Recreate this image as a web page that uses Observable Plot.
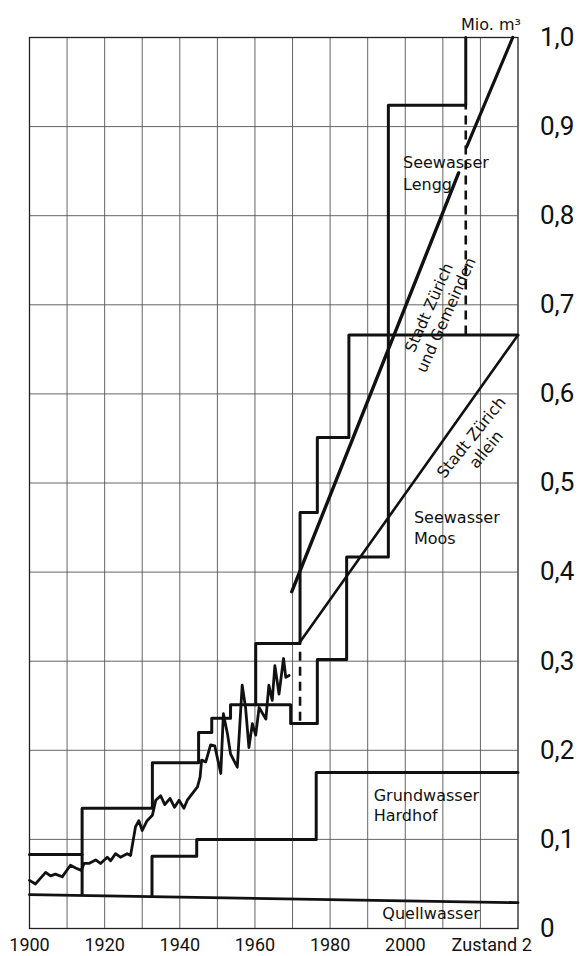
<!DOCTYPE html>
<html><head><meta charset="utf-8">
<script src="https://cdn.jsdelivr.net/npm/d3@7"></script>
<script src="https://cdn.jsdelivr.net/npm/@observablehq/plot@0.6"></script>
<style>body{margin:0;background:#fff} #chart svg{display:block}</style>
</head><body><div id="chart"></div>
<script>
// Actual water consumption (noisy line), Mio. m3
const consYears = [1900,1901.6,1904.3,1905.6,1906.9,1908.7,1910.9,1912.3,1913.8,1914.5,1915.8,1917.6,1918.9,1920.7,1921.6,1922.9,1924.2,1926,1926.9,1928.2,1929.1,1930,1931.3,1932.7,1933.6,1934.9,1936,1937.4,1938.6,1939.8,1941.1,1942,1944.7,1945.4,1945.8,1946.9,1948.2,1949.3,1950.9,1951.6,1952.7,1953.5,1955.3,1956.6,1957.5,1958.4,1959.3,1960.2,1961.1,1962.9,1963.7,1964.6,1965.3,1966.4,1967.6,1968.2,1969.1];
const consValues = [0.054,0.050,0.063,0.059,0.061,0.058,0.071,0.068,0.065,0.073,0.073,0.077,0.073,0.080,0.076,0.084,0.080,0.084,0.082,0.114,0.121,0.110,0.121,0.127,0.144,0.149,0.139,0.146,0.136,0.144,0.135,0.144,0.159,0.170,0.189,0.187,0.206,0.205,0.174,0.241,0.218,0.196,0.181,0.273,0.248,0.203,0.230,0.217,0.248,0.235,0.273,0.256,0.295,0.263,0.303,0.282,0.284];

// Capacity staircase (upper)
const capYears = [1900,1914,1932.7,1945,1948.5,1953.5,1960.2,1972,1976.6,1985,2030];
const capValues = [0.083,0.135,0.186,0.220,0.236,0.251,0.320,0.467,0.551,0.666,0.666];
// Capacity staircase (second)
const cap2Years = [1960.2,1969.5,1976.6,1984.4,1995.5,2016.1];
const cap2Values = [0.251,0.230,0.302,0.417,0.924,1.0];
// Grundwasser Hardhof
const hardhofYears = [1932.6,1932.6,1944.5,1976.3,2030];
const hardhofValues = [0.036,0.081,0.100,0.175,0.175];
// Quellwasser
const quellYears = [1900,2030];
const quellValues = [0.038,0.029];
// Forecast lines
const gemeindenYears = [1969.8,2014.2];
const gemeindenValues = [0.378,0.848];
const alleinYears = [1971.7,2030];
const alleinValues = [0.320,0.666];
const lenggYears = [2016.3,2028.6];
const lenggValues = [0.877,1.0];
// Dashed and extra risers
const dashYears = [1972,2016.1];
const dashFrom = [0.31,0.666];
const dashTo = [0.23,0.924];
const riserYears = [1914];
const riserFrom = [0.037];
const riserTo = [0.083];

// Grid and ticks
const gridYears = [1910,1920,1930,1940,1950,1960,1970,1980,1990,2000,2010,2020];
const gridValues = [0.1,0.2,0.3,0.4,0.5,0.6,0.7,0.8,0.9];
const xTickYears = [1900,1920,1940,1960,1980,2000,2023];
const xTickLabels = ["1900","1920","1940","1960","1980","2000","Zustand 2"];
const yTickValues = [0,0.1,0.2,0.3,0.4,0.5,0.6,0.7,0.8,0.9,1.0];
const yTickLabels = ["0","0,1","0,2","0,3","0,4","0,5","0,6","0,7","0,8","0,9","1,0"];

const pts = (xs, ys) => xs.map((x, i) => ({x, y: ys[i]}));
const xLab = new Map(xTickYears.map((d, i) => [d, xTickLabels[i]]));
const yLab = new Map(yTickValues.map((d, i) => [d, yTickLabels[i]]));
const vseg = (xs, a, b) => xs.map((x, i) => ({x, y1: a[i], y2: b[i]}));

const font = "DejaVu Sans";
const chart = Plot.plot({
  width: 582, height: 956,
  marginTop: 37, marginBottom: 28, marginLeft: 29, marginRight: 64.5,
  style: {fontFamily: "Roboto", background: "#fff", color: "#111", overflow: "visible"},
  x: {domain: [1900, 2030], axis: null},
  y: {domain: [0, 1], axis: null},
  marks: [
    Plot.ruleX(gridYears, {stroke: "#555", strokeWidth: 0.9}),
    Plot.ruleY(gridValues, {stroke: "#555", strokeWidth: 0.9}),
    Plot.frame({stroke: "#222", strokeWidth: 1.3}),
    Plot.axisX(xTickYears, {anchor: "bottom", label: null, tickSize: 0, tickPadding: 10, fontSize: 18, tickFormat: d => xLab.get(d)}),
    Plot.axisY(yTickValues, {anchor: "right", label: null, tickSize: 0, tickPadding: 22, fontSize: 26, tickFormat: d => yLab.get(d)}),
    Plot.text(["Mio. m³"], {frameAnchor: "top-right", dx: 3, dy: -19, textAnchor: "end", fontSize: 16, fontFamily: font}),

    Plot.line(pts(quellYears, quellValues), {x: "x", y: "y", stroke: "#111", strokeWidth: 2.8}),
    Plot.line(pts(hardhofYears, hardhofValues), {x: "x", y: "y", curve: "step-after", stroke: "#111", strokeWidth: 3}),
    Plot.ruleX(vseg(riserYears, riserFrom, riserTo), {x: "x", y1: "y1", y2: "y2", stroke: "#111", strokeWidth: 3}),
    Plot.line(pts(capYears, capValues), {x: "x", y: "y", curve: "step-after", stroke: "#111", strokeWidth: 3}),
    Plot.line(pts(cap2Years, cap2Values), {x: "x", y: "y", curve: "step-after", stroke: "#111", strokeWidth: 3}),
    Plot.ruleX(vseg(dashYears, dashFrom, dashTo), {x: "x", y1: "y1", y2: "y2", stroke: "#111", strokeWidth: 2.6, strokeDasharray: "9,6"}),
    Plot.line(pts(gemeindenYears, gemeindenValues), {x: "x", y: "y", stroke: "#111", strokeWidth: 3.4}),
    Plot.line(pts(alleinYears, alleinValues), {x: "x", y: "y", stroke: "#111", strokeWidth: 2.6}),
    Plot.line(pts(lenggYears, lenggValues), {x: "x", y: "y", stroke: "#111", strokeWidth: 3.2}),
    Plot.line(pts(consYears, consValues), {x: "x", y: "y", stroke: "#111", strokeWidth: 2.8, strokeLinejoin: "round"}),

    Plot.text([{x: 1999.4, y: 0.849, t: "Seewasser\nLengg"}], {x: "x", y: "y", text: "t", textAnchor: "start", lineAnchor: "middle", lineHeight: 1.35, fontSize: 16, fontFamily: font, fill: "#111"}),
    Plot.text([{x: 2002.3, y: 0.451, t: "Seewasser\nMoos"}], {x: "x", y: "y", text: "t", textAnchor: "start", lineAnchor: "middle", lineHeight: 1.35, fontSize: 16, fontFamily: font, fill: "#111"}),
    Plot.text([{x: 1991.6, y: 0.139, t: "Grundwasser\nHardhof"}], {x: "x", y: "y", text: "t", textAnchor: "start", lineAnchor: "middle", lineHeight: 1.25, fontSize: 16, fontFamily: font, fill: "#111"}),
    Plot.text([{x: 1993.9, y: 0.016, t: "Quellwasser"}], {x: "x", y: "y", text: "t", textAnchor: "start", lineAnchor: "middle", fontSize: 16, fontFamily: font, fill: "#111"}),
    Plot.text([{x: 2008.4, y: 0.693, t: "Stadt Zürich\nund Gemeinden"}], {x: "x", y: "y", text: "t", rotate: -66, textAnchor: "middle", lineAnchor: "middle", lineHeight: 1.2, fontSize: 15.5, fontFamily: font, fill: "#111"}),
    Plot.text([{x: 2019.4, y: 0.545, t: "Stadt Zürich\nallein"}], {x: "x", y: "y", text: "t", rotate: -51, textAnchor: "middle", lineAnchor: "middle", lineHeight: 1.2, fontSize: 16, fontFamily: font, fill: "#111"})
  ]
});
document.getElementById("chart").appendChild(chart);
</script>
</body></html>
